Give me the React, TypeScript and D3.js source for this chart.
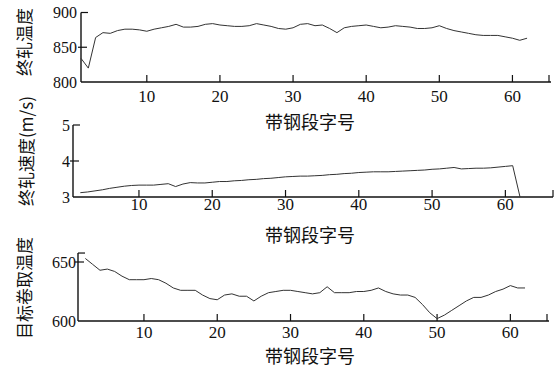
import React from "react";
import * as d3 from "d3";

// segment numbers 1..62
const segments = d3.range(1, 63);
const xTicks = [10, 20, 30, 40, 50, 60];
const xTitle = "带钢段字号";

// 终轧温度
const finishTemp = [
  834, 820, 864, 871, 870, 874, 876, 876, 875, 873,
  876, 878, 880, 883, 879, 879, 880, 883, 884, 882,
  881, 880, 880, 881, 884, 882, 880, 877, 876, 878,
  883, 884, 881, 882, 877, 871, 878, 880, 881, 882,
  880, 878, 879, 881, 880, 879, 877, 877, 878, 881,
  877, 874, 872, 870, 868, 867, 867, 867, 865, 863,
  860, 863,
];

// 终轧速度 (m/s)
const finishSpeed = [
  null, 3.12, 3.14, 3.17, 3.2, 3.24, 3.27, 3.3, 3.32, 3.33,
  3.33, 3.33, 3.35, 3.37, 3.29, 3.36, 3.4, 3.39, 3.39, 3.41,
  3.43, 3.43, 3.45, 3.46, 3.48, 3.49, 3.51, 3.52, 3.54, 3.56,
  3.57, 3.58, 3.58, 3.59, 3.6, 3.62, 3.63, 3.65, 3.66, 3.68,
  3.69, 3.7, 3.7, 3.7, 3.71, 3.72, 3.73, 3.74, 3.75, 3.77,
  3.78, 3.8, 3.82, 3.78, 3.79, 3.8, 3.8, 3.81, 3.83, 3.85,
  3.87, 3.0,
];

// 目标卷取温度
const coilTemp = [
  null, 653, 648, 643, 644, 642, 638, 635, 635, 635,
  636, 635, 632, 628, 626, 626, 626, 622, 619, 618,
  622, 623, 621, 621, 617, 621, 624, 625, 626, 626,
  625, 624, 623, 624, 629, 624, 624, 624, 625, 625,
  626, 628, 625, 623, 622, 622, 620, 614, 607, 602,
  605, 609, 613, 617, 620, 620, 622, 625, 627, 630,
  628, 628,
];

interface PanelDef {
  label: string;
  values: (number | null)[];
  yDomain: [number, number];
  yTicks: number[];
  yTopValue: number;
  left: number;
  right: number;
  xMax: number;
  axisEnd: number;
  yBottom: number;
  yTop: number;
  yLabelX: number;
  labelX: number;
  labelY: number;
  tickLabelY: number;
  titleY: number;
}

const panels: PanelDef[] = [
  {
    label: "终轧温度",
    values: finishTemp,
    yDomain: [800, 900],
    yTicks: [800, 850, 900],
    yTopValue: 900,
    left: 81, right: 549, xMax: 65, axisEnd: 551,
    yBottom: 82, yTop: 12.5,
    yLabelX: 77, labelX: 23, labelY: 42,
    tickLabelY: 102, titleY: 121,
  },
  {
    label: "终轧速度(m/s)",
    values: finishSpeed,
    yDomain: [3, 5],
    yTicks: [3, 4, 5],
    yTopValue: 5,
    left: 73, right: 553, xMax: 66.5, axisEnd: 553,
    yBottom: 197, yTop: 125,
    yLabelX: 70, labelX: 25, labelY: 151,
    tickLabelY: 210, titleY: 234,
  },
  {
    label: "目标卷取温度",
    values: coilTemp,
    yDomain: [600, 650],
    yTicks: [600, 650],
    yTopValue: 657.6,
    left: 78, right: 547, xMax: 65, axisEnd: 549,
    yBottom: 321, yTop: 262,
    yLabelX: 76, labelX: 23, labelY: 288,
    tickLabelY: 338, titleY: 355,
  },
];

const serif = "'Liberation Serif', 'DejaVu Serif', serif";
const cjk = "'Noto Sans CJK SC', sans-serif";

const Panel: React.FC<{ p: PanelDef }> = ({ p }) => {
  const x = d3.scaleLinear().domain([1, p.xMax]).range([p.left, p.right]);
  const y = d3.scaleLinear().domain(p.yDomain).range([p.yBottom, p.yTop]);
  const line = d3
    .line<number | null>()
    .defined((d) => d !== null)
    .x((_, i) => x(segments[i]))
    .y((d) => y(d as number));
  const top = y(p.yTopValue);

  return (
    <g>
      {/* axes */}
      <line x1={p.left} x2={p.axisEnd} y1={p.yBottom} y2={p.yBottom} stroke="#111" strokeWidth={1.4} />
      <line x1={p.left} x2={p.left} y1={p.yBottom} y2={top} stroke="#111" strokeWidth={1.4} />
      <line x1={p.left} x2={p.left + 7} y1={top} y2={top} stroke="#111" strokeWidth={1.2} />
      {p.yTicks.slice(1).map((t) =>
        Math.abs(y(t) - top) > 1 ? (
          <line key={t} x1={p.left - 3} x2={p.left + 6} y1={y(t)} y2={y(t)} stroke="#111" strokeWidth={1.2} />
        ) : null
      )}
      {xTicks.map((t) => (
        <line key={t} x1={x(t)} x2={x(t)} y1={p.yBottom} y2={p.yBottom - 7} stroke="#111" strokeWidth={1.2} />
      ))}
      <line x1={p.right} x2={p.right} y1={p.yBottom} y2={p.yBottom - 7} stroke="#111" strokeWidth={1.2} />

      {/* tick labels */}
      {p.yTicks.map((t) => (
        <text key={t} x={p.yLabelX} y={y(t)} textAnchor="end" dominantBaseline="central"
          fontFamily={serif} fontSize={16} fill="#111">{t}</text>
      ))}
      {xTicks.map((t) => (
        <text key={t} x={x(t)} y={p.tickLabelY} textAnchor="middle"
          fontFamily={serif} fontSize={17} fill="#111">{t}</text>
      ))}

      {/* titles */}
      <text x={310} y={p.titleY} textAnchor="middle" dominantBaseline="central"
        fontFamily={cjk} fontSize={18} fill="#111">{xTitle}</text>
      <text transform={`translate(${p.labelX},${p.labelY}) rotate(-90)`} textAnchor="middle"
        dominantBaseline="central" fontFamily={cjk} fontSize={17} fill="#111">{p.label}</text>

      {/* data */}
      <path d={line(p.values) || ""} fill="none" stroke="#333" strokeWidth={1} />
    </g>
  );
};

export default function App() {
  return (
    <svg width={555} height={376} style={{ position: "absolute", left: 0, top: 0, background: "#fff" }}>
      {panels.map((p, i) => (
        <Panel key={i} p={p} />
      ))}
    </svg>
  );
}
